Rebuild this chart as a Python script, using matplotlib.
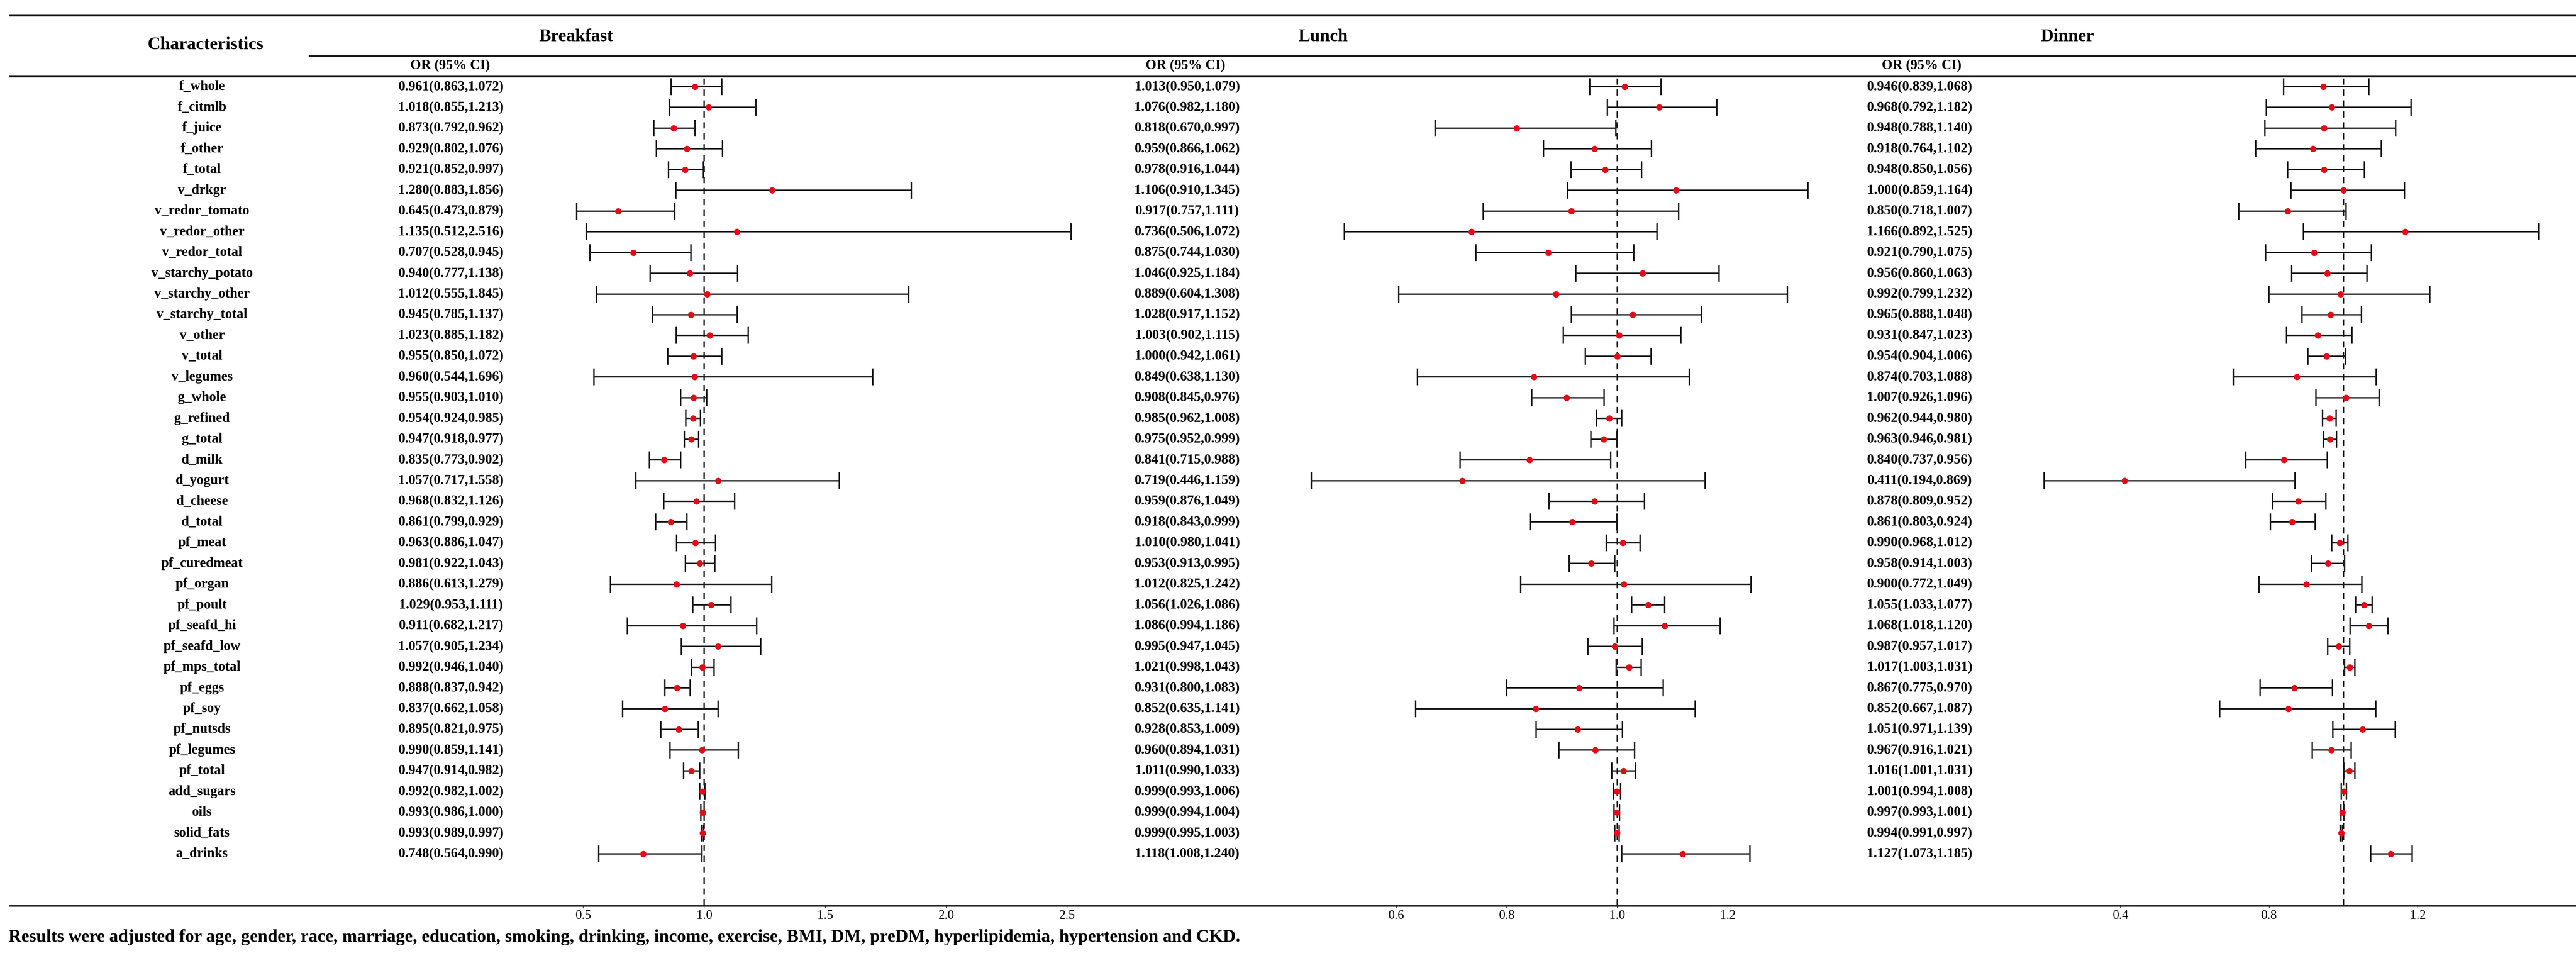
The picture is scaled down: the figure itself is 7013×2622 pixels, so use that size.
import matplotlib
matplotlib.use('Agg')
import numpy as np
import matplotlib.pyplot as plt

items = ['f_whole', 'f_citmlb', 'f_juice', 'f_other', 'f_total', 'v_drkgr',
         'v_redor_tomato', 'v_redor_other', 'v_redor_total', 'v_starchy_potato',
         'v_starchy_other', 'v_starchy_total', 'v_other', 'v_total', 'v_legumes',
         'g_whole', 'g_refined', 'g_total', 'd_milk', 'd_yogurt', 'd_cheese',
         'd_total', 'pf_meat', 'pf_curedmeat', 'pf_organ', 'pf_poult',
         'pf_seafd_hi', 'pf_seafd_low', 'pf_mps_total', 'pf_eggs', 'pf_soy',
         'pf_nutsds', 'pf_legumes', 'pf_total', 'add_sugars', 'oils',
         'solid_fats', 'a_drinks']

bf_or = [0.961, 1.018, 0.873, 0.929, 0.921, 1.280, 0.645, 1.135, 0.707, 0.940,
         1.012, 0.945, 1.023, 0.955, 0.960, 0.955, 0.954, 0.947, 0.835, 1.057,
         0.968, 0.861, 0.963, 0.981, 0.886, 1.029, 0.911, 1.057, 0.992, 0.888,
         0.837, 0.895, 0.990, 0.947, 0.992, 0.993, 0.993, 0.748]
bf_lo = [0.863, 0.855, 0.792, 0.802, 0.852, 0.883, 0.473, 0.512, 0.528, 0.777,
         0.555, 0.785, 0.885, 0.850, 0.544, 0.903, 0.924, 0.918, 0.773, 0.717,
         0.832, 0.799, 0.886, 0.922, 0.613, 0.953, 0.682, 0.905, 0.946, 0.837,
         0.662, 0.821, 0.859, 0.914, 0.982, 0.986, 0.989, 0.564]
bf_hi = [1.072, 1.213, 0.962, 1.076, 0.997, 1.856, 0.879, 2.516, 0.945, 1.138,
         1.845, 1.137, 1.182, 1.072, 1.696, 1.010, 0.985, 0.977, 0.902, 1.558,
         1.126, 0.929, 1.047, 1.043, 1.279, 1.111, 1.217, 1.234, 1.040, 0.942,
         1.058, 0.975, 1.141, 0.982, 1.002, 1.000, 0.997, 0.990]

lu_or = [1.013, 1.076, 0.818, 0.959, 0.978, 1.106, 0.917, 0.736, 0.875, 1.046,
         0.889, 1.028, 1.003, 1.000, 0.849, 0.908, 0.985, 0.975, 0.841, 0.719,
         0.959, 0.918, 1.010, 0.953, 1.012, 1.056, 1.086, 0.995, 1.021, 0.931,
         0.852, 0.928, 0.960, 1.011, 0.999, 0.999, 0.999, 1.118]
lu_lo = [0.950, 0.982, 0.670, 0.866, 0.916, 0.910, 0.757, 0.506, 0.744, 0.925,
         0.604, 0.917, 0.902, 0.942, 0.638, 0.845, 0.962, 0.952, 0.715, 0.446,
         0.876, 0.843, 0.980, 0.913, 0.825, 1.026, 0.994, 0.947, 0.998, 0.800,
         0.635, 0.853, 0.894, 0.990, 0.993, 0.994, 0.995, 1.008]
lu_hi = [1.079, 1.180, 0.997, 1.062, 1.044, 1.345, 1.111, 1.072, 1.030, 1.184,
         1.308, 1.152, 1.115, 1.061, 1.130, 0.976, 1.008, 0.999, 0.988, 1.159,
         1.049, 0.999, 1.041, 0.995, 1.242, 1.086, 1.186, 1.045, 1.043, 1.083,
         1.141, 1.009, 1.031, 1.033, 1.006, 1.004, 1.003, 1.240]

di_or = [0.946, 0.968, 0.948, 0.918, 0.948, 1.000, 0.850, 1.166, 0.921, 0.956,
         0.992, 0.965, 0.931, 0.954, 0.874, 1.007, 0.962, 0.963, 0.840, 0.411,
         0.878, 0.861, 0.990, 0.958, 0.900, 1.055, 1.068, 0.987, 1.017, 0.867,
         0.852, 1.051, 0.967, 1.016, 1.001, 0.997, 0.994, 1.127]
di_lo = [0.839, 0.792, 0.788, 0.764, 0.850, 0.859, 0.718, 0.892, 0.790, 0.860,
         0.799, 0.888, 0.847, 0.904, 0.703, 0.926, 0.944, 0.946, 0.737, 0.194,
         0.809, 0.803, 0.968, 0.914, 0.772, 1.033, 1.018, 0.957, 1.003, 0.775,
         0.667, 0.971, 0.916, 1.001, 0.994, 0.993, 0.991, 1.073]
di_hi = [1.068, 1.182, 1.140, 1.102, 1.056, 1.164, 1.007, 1.525, 1.075, 1.063,
         1.232, 1.048, 1.023, 1.006, 1.088, 1.096, 0.980, 0.981, 0.956, 0.869,
         0.952, 0.924, 1.012, 1.003, 1.049, 1.077, 1.120, 1.017, 1.031, 0.970,
         1.087, 1.139, 1.021, 1.031, 1.008, 1.001, 0.997, 1.185]

meals = ['Breakfast', 'Lunch', 'Dinner']
bf_ticks = [0.5, 1.0, 1.5, 2.0, 2.5]
lu_ticks = [0.6, 0.8, 1.0, 1.2]
di_ticks = [0.4, 0.8, 1.2]
note = ('Results were adjusted for age, gender, race, marriage, education, smoking, '
        'drinking, income, exercise, BMI, DM, preDM, hyperlipidemia, hypertension and CKD.')

plt.rcParams['font.family'] = ['Liberation Serif', 'DejaVu Serif']

W, H = 7013, 2622
fig = plt.figure(figsize=(W / 100, H / 100), dpi=100)
ink = '#1c1c1c'


def box(x0, y0, x1, y1):
    # pixel box (y from top) -> figure fraction rect
    return [x0 / W, 1 - y1 / H, (x1 - x0) / W, (y1 - y0) / H]


top, bot = 208, 2466
first, step = 236, 56.45
ylim = ((bot - first) / step, (top - first) / step)
rows = np.arange(len(items))

# rules and headers
frame = fig.add_axes([0, 0, 1, 1])
frame.set_xlim(0, W)
frame.set_ylim(H, 0)
frame.axis('off')
frame.hlines([42, 208, 2466], 25, W, color=ink, lw=3.3)
frame.hlines(152, 840, W, color=ink, lw=3.3)
frame.text(560, 122, 'Characteristics', ha='center', va='center', fontsize=35, weight='bold')
for name, cx in zip(meals, [1568, 3602, 5628]):
    frame.text(cx, 100, name, ha='center', va='center', fontsize=35, weight='bold')
for cx in [1225, 3227, 5231]:
    frame.text(cx, 178, 'OR (95% CI)', ha='center', va='center', fontsize=27, weight='bold')
frame.text(23, 2552, note, ha='left', va='center', fontsize=35, weight='bold')

# text columns
tab = fig.add_axes(box(0, top, W, bot))
tab.set_xlim(0, W)
tab.set_ylim(*ylim)
tab.axis('off')
for i, lab in enumerate(items):
    tab.text(550, i, lab, ha='center', va='center', fontsize=27, weight='bold')

panels = [(bf_or, bf_lo, bf_hi, bf_ticks, 1228, 1570, 2916),
          (lu_or, lu_lo, lu_hi, lu_ticks, 3232, 3570, 4922),
          (di_or, di_lo, di_hi, di_ticks, 5226, 5565, 6911)]

for est, lo, hi, ticks, tx, x0, x1 in panels:
    est, lo, hi = np.array(est), np.array(lo), np.array(hi)
    for i in rows:
        tab.text(tx, i, f'{est[i]:.3f}({lo[i]:.3f},{hi[i]:.3f})',
                 ha='center', va='center', fontsize=27, weight='bold')

    ax = fig.add_axes(box(x0, top, x1, bot))
    ax.patch.set_alpha(0)
    ax.set_xlim(lo.min(), hi.max())
    ax.set_ylim(*ylim)
    ax.axvline(1, color=ink, lw=2.9, ls=(0, (4.2, 3.2)), zorder=1)
    ax.errorbar(est, rows, xerr=[est - lo, hi - est], fmt='none', ecolor=ink,
                elinewidth=2.9, capsize=16.5, capthick=2.9, clip_on=False, zorder=2)
    ax.plot(est, rows, 'o', color='#e30b17', ms=12.5, mec='none', clip_on=False, zorder=3)
    for s in ax.spines.values():
        s.set_visible(False)
    ax.set_yticks([])
    ax.set_xticks(ticks)
    ax.set_xticklabels([f'{t:.1f}' for t in ticks])
    ax.tick_params(axis='x', length=4, width=1.2, color=ink, labelsize=25, pad=4)

fig.savefig('out.png', dpi=100)
